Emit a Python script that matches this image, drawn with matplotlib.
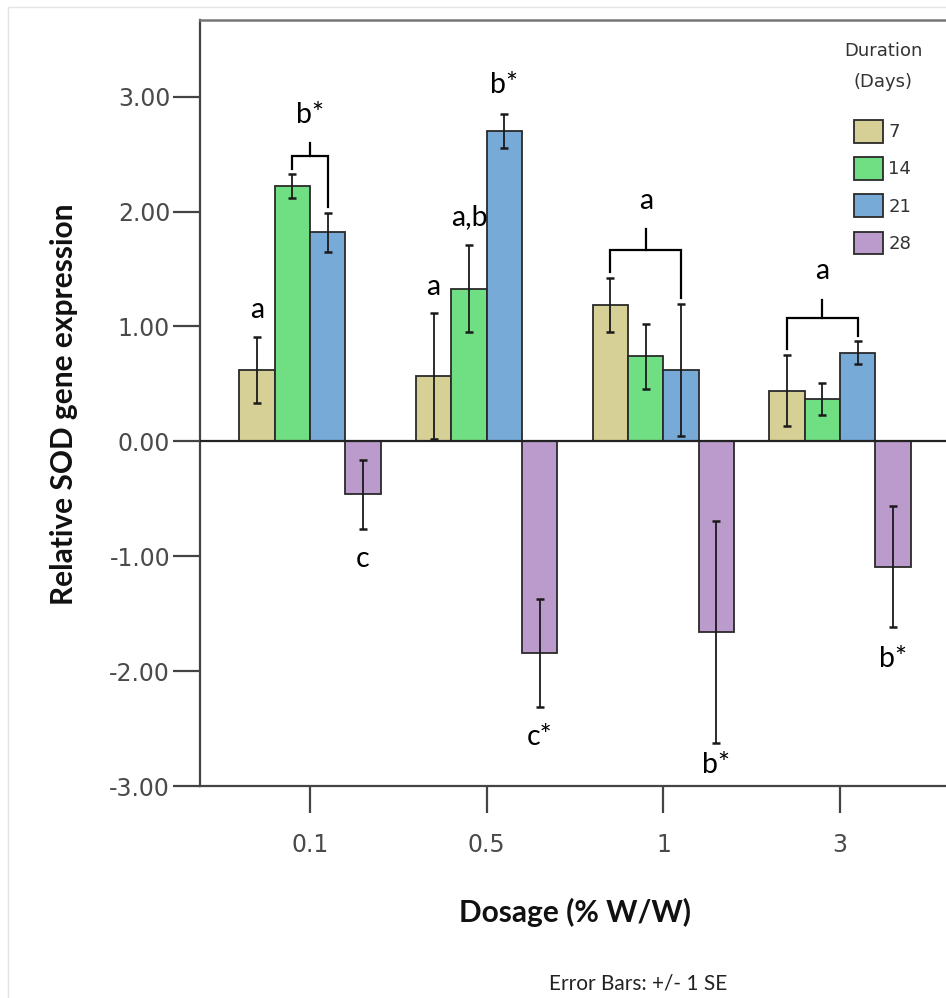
import numpy as np
import matplotlib
matplotlib.use("Agg")
import matplotlib.pyplot as plt
from matplotlib.ticker import FormatStrFormatter
from matplotlib.patches import Rectangle

plt.rcParams['axes.unicode_minus'] = False
plt.rcParams['font.family'] = ['DejaVu Sans']

# ---------------- data ----------------
dosage_labels = ['0.1', '0.5', '1', '3']
duration_labels = ['7', '14', '21', '28']

mean_7 = [0.62, 0.57, 1.19, 0.44]
se_7 = [0.29, 0.55, 0.235, 0.31]
mean_14 = [2.22, 1.33, 0.74, 0.37]
se_14 = [0.105, 0.38, 0.285, 0.14]
mean_21 = [1.82, 2.70, 0.62, 0.77]
se_21 = [0.17, 0.15, 0.575, 0.10]
mean_28 = [-0.46, -1.84, -1.66, -1.09]
se_28 = [0.30, 0.47, 0.97, 0.53]

means = [mean_7, mean_14, mean_21, mean_28]
ses = [se_7, se_14, se_21, se_28]

# significance letters: (dosage group, duration series, text, baseline y)
single_letters = [
    (0, 0, 'a', 1.07), (0, 3, 'c', -1.09),
    (1, 0, 'a', 1.273), (1, 1, 'a,b', 1.883), (1, 2, 'b*', 3.029), (1, 3, 'c*', -2.643),
    (2, 3, 'b*', -2.89),
    (3, 3, 'b*', -1.967),
]
# brackets: (group, left series, right series, bar level, stem top, text, text baseline)
brackets = [
    (0, 1, 2, 2.485, 2.594, 'b*', 2.768),
    (2, 0, 2, 1.665, 1.845, 'a', 2.019),
    (3, 0, 2, 1.07, 1.23, 'a', 1.41),
]

colors = ['#D6D096', '#70DE82', '#78AAD8', '#BA9BCC']
W, H = 946, 998

fig = plt.figure(figsize=(W / 100, H / 100), dpi=100)
fig.patch.set_facecolor('white')
ax = fig.add_axes([200 / W, 1 - 786 / H, 750 / W, 766 / H])

x = np.arange(len(dosage_labels))
bw = 0.2
containers = []
for j in range(4):
    xs = x + (j - 1.5) * bw
    c = ax.bar(xs, means[j], width=bw, color=colors[j], edgecolor='#2a2a2a',
               linewidth=1.3, zorder=2)
    containers.append(c)
    ax.errorbar(xs, means[j], yerr=ses[j], fmt='none', ecolor='#1a1a1a',
                elinewidth=1.3, capsize=3, capthick=1.8, zorder=4)

ax.axhline(0, color='#222222', lw=1.6, zorder=3)

ax.set_xlim(-0.6225, 3.622)
ax.set_ylim(-3.0, 3.668)
ax.set_xticks(x)
ax.set_xticklabels(dosage_labels)
ax.set_yticks(np.arange(-3, 4, 1))
ax.yaxis.set_major_formatter(FormatStrFormatter('%.2f'))
ax.tick_params(axis='both', direction='out', length=19.5, width=1.6,
               color='#444444', labelsize=17, labelcolor='#4a4a4a')
ax.tick_params(axis='y', pad=2)
ax.tick_params(axis='x', pad=14)

for s in ['left', 'bottom', 'right']:
    ax.spines[s].set_color('#444444')
    ax.spines[s].set_linewidth(1.6)
ax.spines['top'].set_color('#777777')
ax.spines['top'].set_linewidth(1.8)

ann_font = dict(family='Lato', fontsize=20.5, color='black')
for g, j, t, yb in single_letters:
    ax.text(g + (j - 1.5) * bw, yb, t, ha='center', va='baseline', zorder=6, **ann_font)

for g, jl, jr, lev, stem, t, yb in brackets:
    xl = g + (jl - 1.5) * bw
    xr = g + (jr - 1.5) * bw
    yl = means[jl][g] + ses[jl][g] + 0.05
    yr = means[jr][g] + ses[jr][g] + 0.05
    xm = (xl + xr) / 2
    ax.plot([xl, xl, xr, xr], [yl, lev, lev, yr], color='black', lw=1.6,
            solid_joinstyle='miter', zorder=5)
    ax.plot([xm, xm], [lev, stem], color='black', lw=1.6, zorder=5)
    ax.text(xm, yb, t, ha='center', va='baseline', zorder=6, **ann_font)

ax.set_ylabel('Relative SOD gene expression', family='Lato', fontweight='bold',
              fontsize=21.5, color='#111111', va='center')
ax.yaxis.set_label_coords((64 - 200) / 750, (786 - 404) / 766)
ax.set_xlabel('Dosage (% W/W)', family='Lato', fontweight='bold',
              fontsize=21.5, color='#111111', va='baseline')
ax.xaxis.set_label_coords(0.5, (786 - 921.7) / 766)

fig.text(638 / W, 1 - 990 / H, 'Error Bars: +/- 1 SE', family='Lato',
         fontsize=15, color='#222222', ha='center', va='baseline')

# legend
leg = ax.legend(containers, duration_labels, loc='upper left',
                bbox_to_anchor=(854 / W, 1 - 120 / H), bbox_transform=fig.transFigure,
                frameon=False, fontsize=13, handlelength=1.606, handleheight=1.55,
                labelspacing=0.81, handletextpad=0.3, borderpad=0, borderaxespad=0)
for txt in leg.get_texts():
    txt.set_color('#333333')
fig.text(883 / W, 1 - 56 / H, 'Duration', fontsize=13, color='#333333',
         ha='center', va='baseline')
fig.text(883 / W, 1 - 87 / H, '(Days)', fontsize=13, color='#333333',
         ha='center', va='baseline')

# faint panel border
fig.patches.append(Rectangle((8 / W, -0.05), 1.1, 1 - 7 / H + 0.05,
                             transform=fig.transFigure, fill=False,
                             edgecolor='#e4e4e4', lw=1.0, figure=fig))

fig.savefig('out.png', dpi=100)
